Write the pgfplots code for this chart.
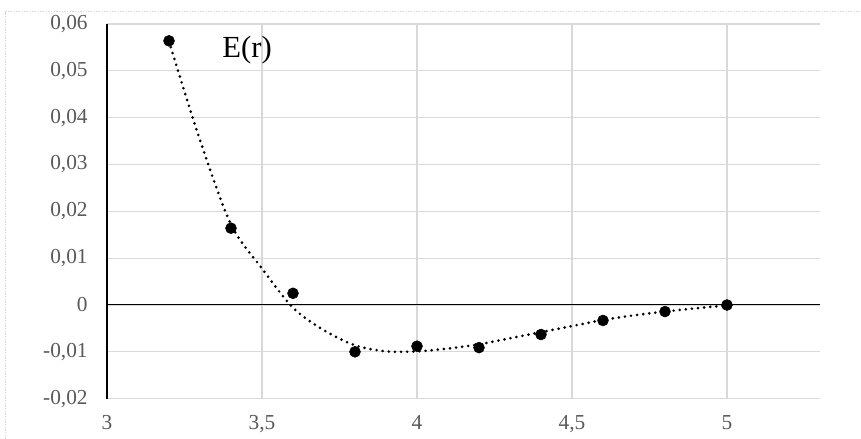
\documentclass[border=0pt]{standalone}
\usepackage{fontspec}
\setmainfont{Liberation Serif}
\usepackage{pgfplots}
\pgfplotsset{compat=1.18}
\definecolor{gridgray}{HTML}{D9D9D9}
\definecolor{labgray}{HTML}{595959}
\begin{document}
\begin{tikzpicture}
\begin{axis}[
  at={(0,0)}, anchor=south west,
  scale only axis,
  width=534.75pt, height=281pt,
  xmin=3, xmax=5.3,
  ymin=-0.02, ymax=0.06,
  xtick={3,3.5,4,4.5,5},
  ytick={-0.02,-0.01,0,0.01,0.02,0.03,0.04,0.05,0.06},
  scaled y ticks=false,
  axis line style={draw=none},
  major tick length=0pt,
  grid=major,
  major grid style={gridgray, line width=0.8pt},
  tick label style={font=\fontsize{16}{18}\selectfont, text=labgray},
  /pgf/number format/assume math mode=true,
  yticklabel style={/pgf/number format/use comma, /pgf/number format/fixed,
    /pgf/number format/precision=2, xshift=-11pt},
  xticklabel style={/pgf/number format/use comma, /pgf/number format/fixed,
    /pgf/number format/precision=1, yshift=-9pt},
  clip=false,
]
% axis lines as in the original
\draw[black, line width=0.75pt] (axis cs:3,0) -- (axis cs:5.3,0);
\draw[black, line width=1.5pt] (axis cs:3,-0.02) -- (axis cs:3,0.06);
% trendline
\addplot[black, line width=2.2pt, smooth, dash pattern=on 0pt off 4.6pt, line cap=round] coordinates {
(3.2,0.0563) (3.3,0.0352) (3.4,0.0172) (3.5,0.0078) (3.6,-0.0006)
(3.7,-0.0054) (3.8,-0.0086) (3.9,-0.0099) (4.0,-0.0099) (4.1,-0.0093)
(4.2,-0.0084) (4.3,-0.0071) (4.4,-0.0058) (4.5,-0.0045) (4.6,-0.0032)
(4.7,-0.0022) (4.8,-0.0014) (4.9,-0.0007) (5.0,-0.0001)
};
% data points
\addplot[only marks, mark=*, mark size=4.1pt, black] coordinates {
(3.2,0.0564) (3.4,0.0164) (3.6,0.0025) (3.8,-0.0100) (4.0,-0.0088)
(4.2,-0.0091) (4.4,-0.0063) (4.6,-0.0033) (4.8,-0.0014) (5.0,0)
};
\node[font=\fontsize{23}{25}\selectfont] at (axis cs:3.452,0.0545) {E(r)};
\end{axis}
\path[use as bounding box] (-80.25pt,-30.2pt) rectangle (565.5pt,299pt);
\draw[gridgray, line width=0.75pt, dash pattern=on 1pt off 1pt] (-75.75pt,-40pt) -- (-75.75pt,290.25pt) -- (600pt,290.25pt);
\end{tikzpicture}
\end{document}
